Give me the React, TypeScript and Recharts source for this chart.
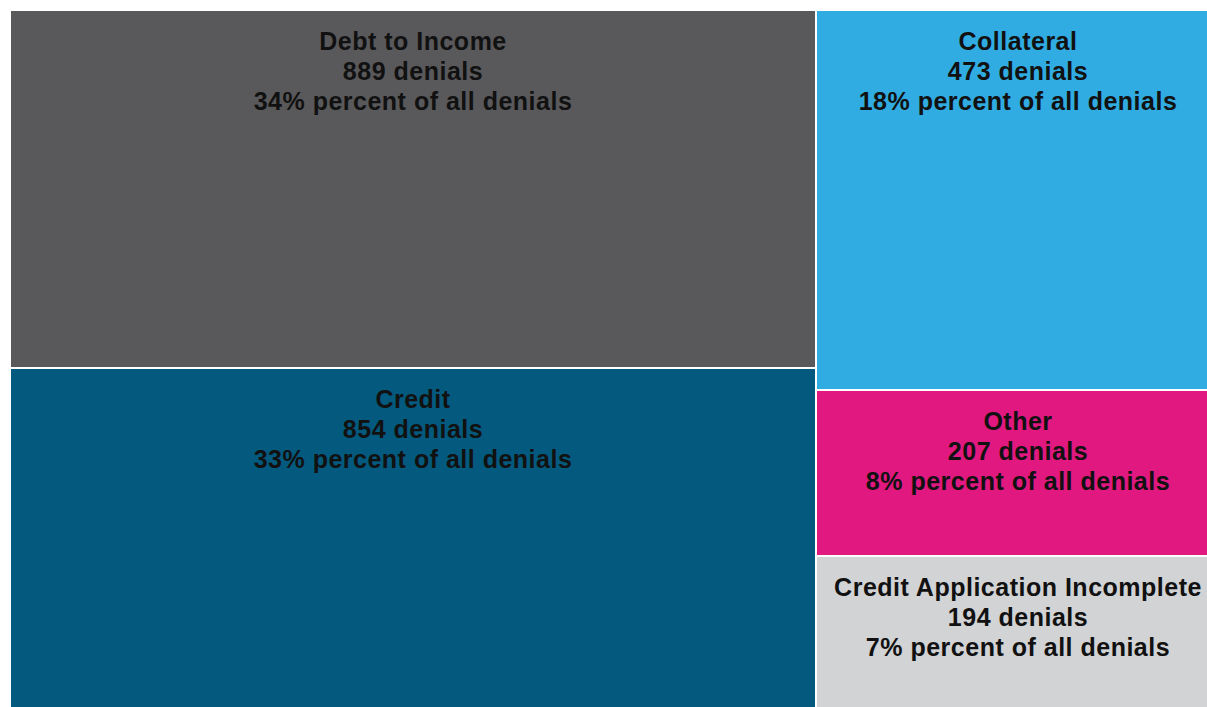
import React from 'react';
import { Treemap } from 'recharts';

// denial reasons, left block and right block
const leftReasons = ['Debt to Income', 'Credit'];
const leftDenials = [889, 854];
const rightReasons = ['Collateral', 'Other', 'Credit Application Incomplete'];
const rightDenials = [473, 207, 194];

const colors: Record<string, string> = {
  'Debt to Income': '#59595b',
  Credit: '#045a7e',
  Collateral: '#30ace2',
  Other: '#e0187f',
  'Credit Application Incomplete': '#d2d3d5',
};

const total = [...leftDenials, ...rightDenials].reduce((a, b) => a + b, 0);

const treeData = [
  { name: 'left', children: leftReasons.map((name, i) => ({ name, size: leftDenials[i] })) },
  { name: 'right', children: rightReasons.map((name, i) => ({ name, size: rightDenials[i] })) },
];

const Cell = (props: any) => {
  const { x, y, width, height, depth, name, value } = props;
  if (depth !== 2) return <g />;
  const cx = x + width / 2;
  const pct = Math.round((value / total) * 100);
  return (
    <g>
      <rect x={x} y={y} width={width} height={height} fill={colors[name]} stroke="#ffffff" strokeWidth={2} />
      <text
        x={cx}
        textAnchor="middle"
        dominantBaseline="middle"
        fill="#111111"
        stroke="none"
        fontFamily="'Liberation Sans', Arial, sans-serif"
        fontWeight="bold"
        fontSize={25}
        letterSpacing={0.5}
      >
        <tspan x={cx} y={y + 33}>{name}</tspan>
        <tspan x={cx} y={y + 63}>{`${value} denials`}</tspan>
        <tspan x={cx} y={y + 93}>{`${pct}% percent of all denials`}</tspan>
      </text>
    </g>
  );
};

export default function App() {
  return (
    <div style={{ position: 'fixed', left: 0, top: 0, width: 1207, height: 707, overflow: 'hidden', background: '#fff' }}>
      <div style={{ position: 'absolute', left: 10, top: 10 }}>
        <Treemap
          width={1210}
          height={702}
          data={treeData}
          dataKey="size"
          nameKey="name"
          isAnimationActive={false}
          content={<Cell />}
        />
      </div>
    </div>
  );
}
